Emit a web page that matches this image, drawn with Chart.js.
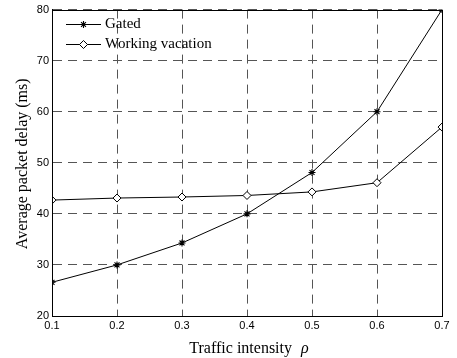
<!DOCTYPE html>
<html>
<head>
<meta charset="utf-8">
<script src="https://cdn.jsdelivr.net/npm/chart.js@4/dist/chart.umd.min.js"></script>
<style>
  html, body { margin: 0; padding: 0; background: #fff; }
  #wrap { width: 457px; height: 358px; position: relative; }
</style>
</head>
<body>
<div id="wrap"><canvas id="c" width="457" height="358"></canvas></div>
<script>
// Traffic intensity values (x axis)
const rho = [0.1, 0.2, 0.3, 0.4, 0.5, 0.6, 0.7];
// Average packet delay (ms) for each scheme
const gatedDelay = [26.6, 30.0, 34.3, 40.0, 48.1, 60.0, 80.0];
const vacationDelay = [42.7, 43.1, 43.3, 43.6, 44.3, 46.1, 57.0];
const seriesNames = ['Gated', 'Working vacation'];
const xTitle = 'Traffic intensity';
const xSymbol = '\u03C1';
const yTitle = 'Average packet delay (ms)';

const toPoints = ys => rho.map((x, i) => ({ x: x, y: ys[i] }));
const serif = '"Liberation Serif", "Times New Roman", serif';

// Frame around the plot area, axis titles, and a legend showing line + marker
const framePlugin = {
  id: 'frame',
  afterDraw(chart) {
    const { ctx, chartArea: a } = chart;
    ctx.save();
    ctx.strokeStyle = '#000';
    ctx.lineWidth = 1;
    ctx.strokeRect(Math.round(a.left) + 0.5, Math.round(a.top) + 0.5,
                   Math.round(a.right - a.left), Math.round(a.bottom - a.top));

    // axis titles
    ctx.fillStyle = '#000';
    ctx.font = '16px ' + serif;
    ctx.textBaseline = 'alphabetic';
    const w1 = ctx.measureText(xTitle).width;
    ctx.font = 'italic 16px ' + serif;
    const w2 = ctx.measureText(xSymbol).width;
    const gap = 9;
    const cx = (a.left + a.right) / 2 + 2;
    const x0 = cx - (w1 + gap + w2) / 2;
    ctx.font = '16px ' + serif;
    ctx.textAlign = 'left';
    ctx.fillText(xTitle, x0, 353);
    ctx.font = 'italic 16px ' + serif;
    ctx.fillText(xSymbol, x0 + w1 + gap, 353);

    ctx.save();
    ctx.translate(27, (a.top + a.bottom) / 2 + 1);
    ctx.rotate(-Math.PI / 2);
    ctx.font = '16px ' + serif;
    ctx.textAlign = 'center';
    ctx.fillText(yTitle, 0, 0);
    ctx.restore();

    // legend
    const rows = [24, 44];
    chart.data.datasets.forEach((ds, i) => {
      const y = rows[i];
      ctx.strokeStyle = '#000';
      ctx.lineWidth = 1;
      ctx.beginPath();
      ctx.moveTo(66, y + 0.5);
      ctx.lineTo(101, y + 0.5);
      ctx.stroke();
      ctx.fillStyle = ds.pointBackgroundColor;
      ctx.strokeStyle = ds.pointBorderColor;
      ctx.lineWidth = ds.pointBorderWidth;
      Chart.helpers.drawPoint(ctx, {
        pointStyle: ds.pointStyle, rotation: 0,
        radius: ds.pointRadius, borderWidth: ds.pointBorderWidth
      }, 83.5, y + 0.5);
      ctx.fillStyle = '#000';
      ctx.font = '15px ' + serif;
      ctx.textBaseline = 'middle';
      ctx.textAlign = 'left';
      ctx.fillText(ds.label, 105, y);
    });
    ctx.restore();
  }
};

const tickFont = { family: '"Liberation Sans", Arial, sans-serif', size: 11 };

new Chart(document.getElementById('c'), {
  type: 'line',
  data: {
    datasets: [
      {
        label: seriesNames[0],
        data: toPoints(gatedDelay),
        borderColor: '#000',
        borderWidth: 1,
        pointStyle: 'star',
        pointRadius: 3.5,
        pointBorderWidth: 1.1,
        pointBorderColor: '#000',
        pointBackgroundColor: '#000',
        tension: 0
      },
      {
        label: seriesNames[1],
        data: toPoints(vacationDelay),
        borderColor: '#000',
        borderWidth: 1,
        pointStyle: 'rectRot',
        pointRadius: 4,
        pointBorderWidth: 1,
        pointBorderColor: '#000',
        pointBackgroundColor: '#fff',
        tension: 0
      }
    ]
  },
  options: {
    responsive: false,
    animation: false,
    devicePixelRatio: 1,
    layout: { padding: { left: 0, right: 15, top: 9, bottom: 0 } },
    plugins: { legend: { display: false }, tooltip: { enabled: false } },
    scales: {
      x: {
        type: 'linear',
        min: 0.1, max: 0.7,
        afterFit(s) { s.height = 42; },
        ticks: {
          stepSize: 0.1, color: '#000', font: tickFont, padding: 3,
          callback: v => v.toFixed(1)
        },
        grid: { color: '#555', lineWidth: 1, drawTicks: false },
        border: { color: '#000', width: 1, dash: [9, 6] }
      },
      y: {
        min: 20, max: 80,
        afterFit(s) { s.width = 52; },
        ticks: { stepSize: 10, color: '#000', font: tickFont, padding: 3 },
        grid: { color: '#555', lineWidth: 1, drawTicks: false },
        border: { color: '#000', width: 1, dash: [9, 6] }
      }
    }
  },
  plugins: [framePlugin]
});
</script>
</body>
</html>
